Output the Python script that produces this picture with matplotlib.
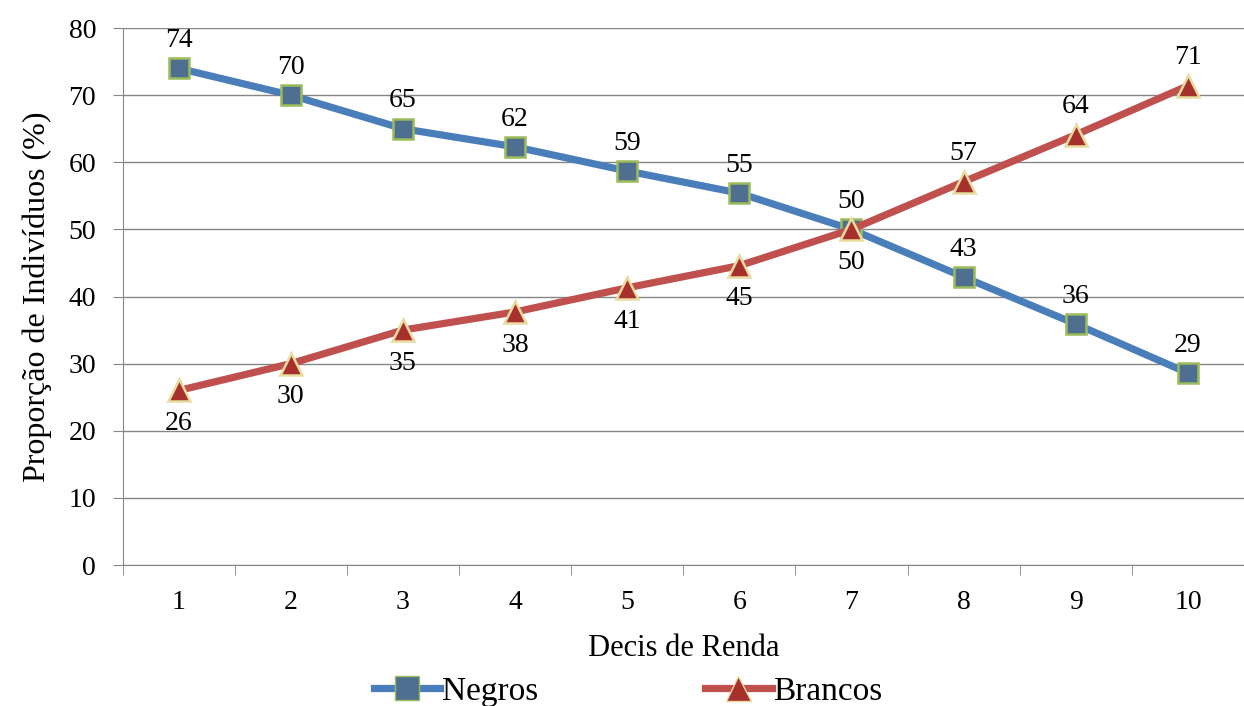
import numpy as np
import matplotlib.pyplot as plt
from matplotlib.lines import Line2D

plt.rcParams['font.family'] = ['Liberation Serif', 'DejaVu Serif']

decis = [1, 2, 3, 4, 5, 6, 7, 8, 9, 10]
negros = [74.0, 70.0, 65.0, 62.3, 58.7, 55.4, 50.0, 42.9, 35.9, 28.6]
brancos = [26.0, 30.0, 35.0, 37.7, 41.3, 44.6, 50.0, 57.1, 64.1, 71.4]
# rótulos de brancos: abaixo até o decil 7, acima depois
brancos_acima = [False] * 7 + [True] * 3

azul = '#4a7ebb'
vermelho = '#c0504d'

fig = plt.figure(figsize=(12.44, 7.06), dpi=100)
ax = fig.add_axes([0.0985, 0.1997, 0.9015, 0.7606])

ax.plot(decis, negros, color=azul, lw=5.2, marker='s', ms=15,
        mfc='#4f6f91', mec='#9bbb59', mew=1.8, zorder=3)
ax.plot(decis, brancos, color=vermelho, lw=5.2, marker='^', ms=16,
        mfc='#a8302c', mec='#e8dca0', mew=1.8, zorder=4)

for x, v in zip(decis, negros):
    ax.annotate(f'{v:.0f}', (x, v), xytext=(0, 11), textcoords='offset points',
                ha='center', va='bottom', fontsize=20)
for x, v, up in zip(decis, brancos, brancos_acima):
    off = 11 if up else -15
    ax.annotate(f'{v:.0f}', (x, v), xytext=(0, off), textcoords='offset points',
                ha='center', va='bottom' if up else 'top', fontsize=20)

ax.set_xlim(0.5, 10.42)
ax.set_ylim(0, 80)
ax.set_yticks(np.arange(0, 81, 10))
ax.set_xticks(decis)
ax.set_xticks(np.arange(0.5, 10.6, 1), minor=True)
ax.tick_params(axis='x', which='major', length=0, pad=18, labelsize=20)
ax.tick_params(axis='x', which='minor', length=7, color='#868686', direction='out')
ax.tick_params(axis='y', length=7, color='#868686', labelsize=20, pad=12)
ax.yaxis.grid(True, color='#868686', lw=1)
ax.set_axisbelow(True)
for s in ['top', 'right']:
    ax.spines[s].set_visible(False)
for s in ['left', 'bottom']:
    ax.spines[s].set_color('#868686')

ax.set_ylabel('Proporção de Indivíduos (%)', fontsize=23, labelpad=12)
ax.set_xlabel('Decis de Renda', fontsize=22, labelpad=14)

h1 = Line2D([], [], color=azul, lw=5.2, marker='s', ms=17, mfc='#4f6f91', mec='#9bbb59')
h2 = Line2D([], [], color=vermelho, lw=5.2, marker='^', ms=18, mfc='#a8302c', mec='#e8dca0')
fig.legend([h1, h2], ['Negros', 'Brancos'], loc='center', bbox_to_anchor=(0.505, 0.02),
           ncol=2, frameon=False, fontsize=24, columnspacing=5.0, handlelength=2.0,
           handletextpad=0.05)

fig.savefig('out.png', dpi=100)
